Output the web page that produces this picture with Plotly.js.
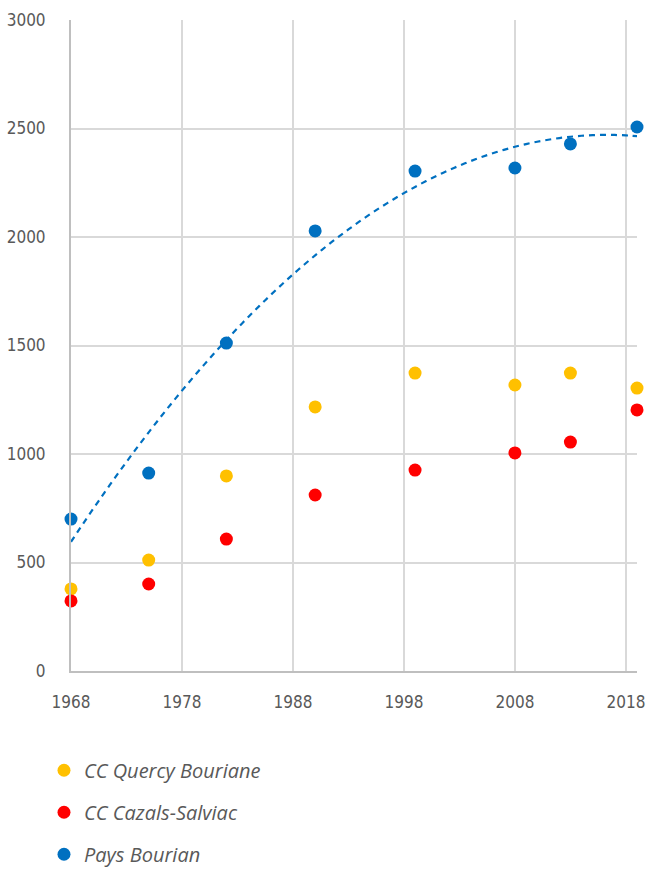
<!DOCTYPE html>
<html>
<head>
<meta charset="utf-8">
<script src="https://cdn.plot.ly/plotly-3.0.1.min.js"></script>
<style>html,body{margin:0;padding:0;background:#fff}#chart{width:647px;height:874px}</style>
</head>
<body>
<div id="chart"></div>
<script>
const years = [1968, 1975, 1982, 1990, 1999, 2008, 2013, 2019];
const quercyBouriane = [378, 511, 899, 1217, 1373, 1318, 1373, 1304];
const cazalsSalviac = [323, 401, 608, 811, 926, 1005, 1055, 1203];
const paysBourian = [700, 912, 1511, 2028, 2304, 2318, 2429, 2507];
const xTicks = [1968, 1978, 1988, 1998, 2008, 2018];
const yTicks = [0, 500, 1000, 1500, 2000, 2500, 3000];

// Polynomial (order 2) trendline fitted to the Pays Bourian series, as in the source chart
function quadFit(xs, ys) {
  const x0 = xs[0];
  let S = [0,0,0,0,0], T = [0,0,0];
  xs.forEach((x, i) => {
    const u = x - x0;
    for (let k = 0; k < 5; k++) S[k] += Math.pow(u, k);
    for (let k = 0; k < 3; k++) T[k] += ys[i] * Math.pow(u, k);
  });
  const A = [[S[0],S[1],S[2],T[0]],[S[1],S[2],S[3],T[1]],[S[2],S[3],S[4],T[2]]];
  for (let i = 0; i < 3; i++) {
    for (let j = i + 1; j < 3; j++) {
      const f = A[j][i] / A[i][i];
      for (let k = i; k < 4; k++) A[j][k] -= f * A[i][k];
    }
  }
  const c = [0,0,0];
  for (let i = 2; i >= 0; i--) {
    let s = A[i][3];
    for (let k = i + 1; k < 3; k++) s -= A[i][k] * c[k];
    c[i] = s / A[i][i];
  }
  return x => c[0] + c[1]*(x - x0) + c[2]*(x - x0)*(x - x0);
}
const fit = quadFit(years, paysBourian);
const trendX = [], trendY = [];
for (let x = years[0]; x <= years[years.length-1]; x += 0.5) { trendX.push(x); trendY.push(fit(x)); }

const mk = (name, y, color, group) => ({
  type: 'scatter', mode: 'markers', name: name, x: years, y: y,
  legendgroup: group, cliponaxis: false,
  marker: {color: color, size: 13}
});

const data = [
  mk('CC Quercy Bouriane', quercyBouriane, '#FFC000', 'a'),
  mk('CC Cazals-Salviac', cazalsSalviac, '#FF0000', 'b'),
  mk('Pays Bourian', paysBourian, '#0070C0', 'c'),
  {type: 'scatter', mode: 'lines', x: trendX, y: trendY, showlegend: false, hoverinfo: 'skip',
   line: {color: '#0070C0', width: 2.2, dash: '6px,5px', shape: 'spline'}}
];

const tickFont = {family: '"DejaVu Sans Condensed", "Liberation Sans Narrow", sans-serif', size: 17, color: '#595959'};
const layout = {
  width: 647, height: 874,
  margin: {l: 71, r: 10, t: 20, b: 203, autoexpand: false},
  paper_bgcolor: '#fff', plot_bgcolor: '#fff',
  showlegend: true,
  xaxis: {
    range: [1968, 2019], tickvals: xTicks, ticktext: xTicks.map(String),
    showgrid: true, gridcolor: '#D9D9D9', gridwidth: 2,
    showline: true, linecolor: '#BFBFBF', linewidth: 2,
    ticks: 'outside', ticklen: 15, tickcolor: 'rgba(0,0,0,0)',
    tickfont: tickFont, zeroline: false, fixedrange: true, automargin: false
  },
  yaxis: {
    range: [0, 3000], tickvals: yTicks, ticktext: yTicks.map(String),
    showgrid: true, gridcolor: '#D9D9D9', gridwidth: 2,
    showline: true, linecolor: '#BFBFBF', linewidth: 2,
    ticks: 'outside', ticklen: 20, tickcolor: 'rgba(0,0,0,0)',
    tickfont: tickFont, zeroline: false, fixedrange: true, automargin: false
  },
  legend: {
    orientation: 'v', xref: 'container', yref: 'container',
    x: 0.068, y: 0.141, xanchor: 'left', yanchor: 'top',
    traceorder: 'grouped', tracegroupgap: 13,
    font: {family: '"Open Sans", sans-serif', size: 20, color: '#595959', style: 'italic'},
    itemwidth: 30, bgcolor: 'rgba(0,0,0,0)'
  }
};

Plotly.newPlot('chart', data, layout, {displayModeBar: false, staticPlot: true});
</script>
</body>
</html>
